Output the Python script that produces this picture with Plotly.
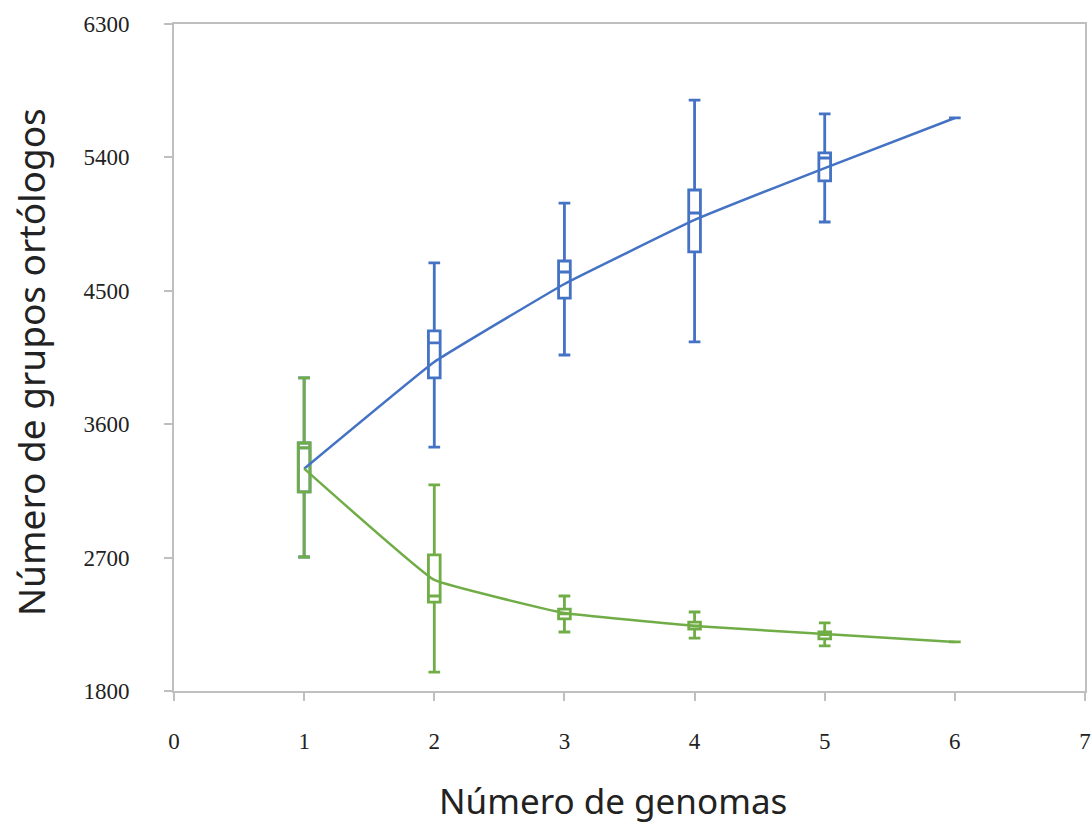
import plotly.graph_objects as go

genomes = [1, 2, 3, 4, 5, 6]

# Pan-genome (blue)
pan_curve = [3300, 4020, 4546, 4978, 5328, 5666]
pan_low = [2704, 3446, 4067, 4155, 4964, 5666]
pan_q1 = [3143, 3912, 4451, 4762, 5241, 5666]
pan_med = [3440, 4148, 4627, 5025, 5396, 5666]
pan_q3 = [3473, 4229, 4701, 5180, 5430, 5666]
pan_high = [3912, 4688, 5092, 5787, 5693, 5666]

# Core-genome (green)
core_curve = [3300, 2549, 2326, 2239, 2185, 2131]
core_low = [2704, 1928, 2198, 2157, 2104, 2131]
core_q1 = [3143, 2400, 2286, 2218, 2151, 2131]
core_med = [3440, 2441, 2320, 2240, 2180, 2131]
core_q3 = [3473, 2718, 2353, 2265, 2198, 2131]
core_high = [3912, 3190, 2441, 2333, 2259, 2131]

y_ticks = [1800, 2700, 3600, 4500, 5400, 6300]
x_ticks = [0, 1, 2, 3, 4, 5, 6, 7]

BLUE = "#4472C4"
GREEN = "#70AD47"
GRAY = "#BFBFBF"

fig = go.Figure()

for curve, col in [(pan_curve, BLUE), (core_curve, GREEN)]:
    fig.add_trace(go.Scatter(
        x=genomes, y=curve, mode="lines",
        line=dict(color=col, width=2.5, shape="spline", smoothing=0.25),
        showlegend=False, hoverinfo="skip",
    ))

for low, q1, med, q3, high, col in [
    (pan_low, pan_q1, pan_med, pan_q3, pan_high, BLUE),
    (core_low, core_q1, core_med, core_q3, core_high, GREEN),
]:
    fig.add_trace(go.Box(
        x=genomes, q1=q1, median=med, q3=q3,
        lowerfence=low, upperfence=high,
        width=0.09, whiskerwidth=1,
        fillcolor="rgba(255,255,255,0)",
        line=dict(color=col, width=2.8),
        boxpoints=False, showlegend=False,
    ))

fig.update_layout(
    width=1091, height=826,
    margin=dict(l=174, r=6, t=24, b=135),
    paper_bgcolor="white", plot_bgcolor="white",
    showlegend=False,
    font=dict(family="Liberation Serif", size=23, color="#222222"),
)

fig.update_xaxes(
    range=[0, 7], tickvals=x_ticks, ticktext=[str(v) for v in x_ticks],
    showgrid=False, zeroline=False, automargin=False,
    showline=True, linecolor=GRAY, linewidth=2, mirror=True,
    ticks="outside", ticklen=8, tickcolor=GRAY, tickwidth=2,
    ticklabelstandoff=20, ticklabeloverflow="allow",
    tickfont=dict(family="Liberation Serif", size=23, color="#222222"),
)
fig.update_yaxes(
    range=[1800, 6300], tickvals=y_ticks, ticktext=[str(v) for v in y_ticks],
    showgrid=False, zeroline=False, automargin=False,
    showline=True, linecolor=GRAY, linewidth=2, mirror=True,
    ticks="outside", ticklen=8, tickcolor=GRAY, tickwidth=2,
    ticklabelstandoff=30, ticklabeloverflow="allow",
    tickfont=dict(family="Liberation Serif", size=23, color="#222222"),
)

fig.add_annotation(
    text="Número de genomas", xref="paper", yref="paper",
    x=(613 - 174) / (1085 - 174), y=-(800 - 691) / (691 - 24),
    showarrow=False, xanchor="center", yanchor="middle",
    font=dict(family="Noto Sans", size=35, color="#222222"),
)
fig.add_annotation(
    text="Número de grupos ortólogos", xref="paper", yref="paper",
    x=-(174 - 30) / (1085 - 174), y=(691 - 362) / (691 - 24),
    showarrow=False, textangle=-90, xanchor="center", yanchor="middle",
    font=dict(family="Noto Sans", size=37, color="#222222"),
)

fig.write_html(
    "out.html",
    config={"displayModeBar": False},
    post_script="document.body.style.margin='0';document.body.style.overflow='hidden';",
)
